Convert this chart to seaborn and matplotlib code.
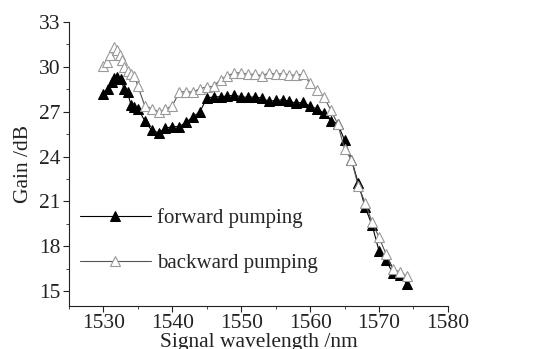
import matplotlib
matplotlib.use("Agg")
import matplotlib.pyplot as plt
import seaborn as sns
import pandas as pd
from matplotlib.ticker import MultipleLocator

fwd_wl = [1530.0, 1530.6, 1531.2, 1531.6, 1532.0, 1532.5, 1533.0, 1533.5, 1534.0, 1534.5,
          1535.0, 1536.0, 1537.0, 1538.0, 1539.0, 1540.0, 1541.0, 1542.0, 1543.0, 1544.0,
          1545.0, 1546.0, 1547.0, 1548.0, 1549.0, 1550.0, 1551.0, 1552.0, 1553.0, 1554.0,
          1555.0, 1556.0, 1557.0, 1558.0, 1559.0, 1560.0, 1561.0, 1562.0, 1563.0, 1564.0,
          1565.0, 1566.0, 1567.0, 1568.0, 1569.0, 1570.0, 1571.0, 1572.0, 1573.0, 1574.0]
fwd_gain = [28.2, 28.5, 29.0, 29.25, 29.3, 29.2, 28.5, 28.3, 27.45, 27.3,
            27.2, 26.4, 25.75, 25.6, 25.9, 26.0, 26.0, 26.3, 26.65, 27.0,
            27.9, 28.0, 28.0, 28.05, 28.1, 28.0, 27.95, 28.0, 27.9, 27.7,
            27.75, 27.8, 27.7, 27.55, 27.65, 27.35, 27.2, 26.9, 26.4, 26.2,
            25.1, 23.8, 22.2, 20.6, 19.4, 17.7, 17.1, 16.2, 16.1, 15.5]

bwd_wl = [1530.0, 1530.5, 1531.0, 1531.5, 1532.0, 1532.4, 1532.7, 1533.0, 1533.5, 1534.0,
          1534.5, 1535.0, 1536.0, 1537.0, 1538.0, 1539.0, 1540.0, 1541.0, 1542.0, 1543.0,
          1544.0, 1545.0, 1546.0, 1547.0, 1548.0, 1549.0, 1550.0, 1551.0, 1552.0, 1553.0,
          1554.0, 1555.0, 1556.0, 1557.0, 1558.0, 1559.0, 1560.0, 1561.0, 1562.0, 1563.0,
          1564.0, 1565.0, 1566.0, 1567.0, 1568.0, 1569.0, 1570.0, 1571.0, 1572.0, 1573.0,
          1574.0]
bwd_gain = [30.05, 30.35, 30.8, 31.35, 31.1, 30.8, 30.45, 30.0, 29.7, 29.55,
            29.4, 28.7, 27.4, 27.2, 27.0, 27.15, 27.4, 28.3, 28.35, 28.3,
            28.55, 28.65, 28.7, 29.15, 29.4, 29.6, 29.6, 29.5, 29.5, 29.4,
            29.6, 29.5, 29.55, 29.45, 29.45, 29.5, 28.9, 28.45, 28.0, 27.1,
            26.2, 24.5, 23.8, 22.0, 20.9, 19.6, 18.6, 17.5, 16.45, 16.3,
            16.0]

x_ticks = [1530, 1540, 1550, 1560, 1570, 1580]
y_ticks = [15, 18, 21, 24, 27, 30, 33]

sns.set_style("ticks")
plt.rcParams['font.family'] = ['Liberation Serif', 'DejaVu Serif']

fig = plt.figure(figsize=(5.39, 3.49), dpi=100)
ax = fig.add_axes([0.128, 0.123, 0.703, 0.814])

df_f = pd.DataFrame({"wl": fwd_wl, "gain": fwd_gain})
df_b = pd.DataFrame({"wl": bwd_wl, "gain": bwd_gain})

sns.lineplot(data=df_f, x="wl", y="gain", ax=ax, sort=False, color="black", lw=0.8,
             marker="^", markersize=6.5, markerfacecolor="black", markeredgecolor="black",
             label="forward pumping")
sns.lineplot(data=df_b, x="wl", y="gain", ax=ax, sort=False, color="#555555", lw=0.8,
             marker="^", markersize=6.5, markerfacecolor="white", markeredgecolor="#999999",
             markeredgewidth=0.8, label="backward pumping")

ax.set_xlim(1525, 1580)
ax.set_ylim(14, 33)
ax.set_xticks(x_ticks)
ax.set_yticks(y_ticks)
ax.xaxis.set_minor_locator(MultipleLocator(5))
ax.yaxis.set_minor_locator(MultipleLocator(1.5))
ax.tick_params(axis="both", which="major", direction="out", length=4, width=0.8,
               labelsize=15.5, pad=2, colors="#222222")
ax.tick_params(axis="both", which="minor", direction="out", length=2, width=0.6)
sns.despine(ax=ax)
for s in ["left", "bottom"]:
    ax.spines[s].set_linewidth(0.8)
    ax.spines[s].set_color("#222222")

ax.set_xlabel("Signal wavelength /nm", fontsize=15.5, labelpad=0, color="#222222")
ax.set_ylabel("Gain /dB", fontsize=15.5, labelpad=4, color="#222222")

leg = ax.legend(loc="lower left", bbox_to_anchor=(-0.01, 0.065), frameon=False, fontsize=15,
                handlelength=3.4, handletextpad=0.3, labelspacing=1.2, borderaxespad=0.3)

fig.savefig("out.png", dpi=100)
